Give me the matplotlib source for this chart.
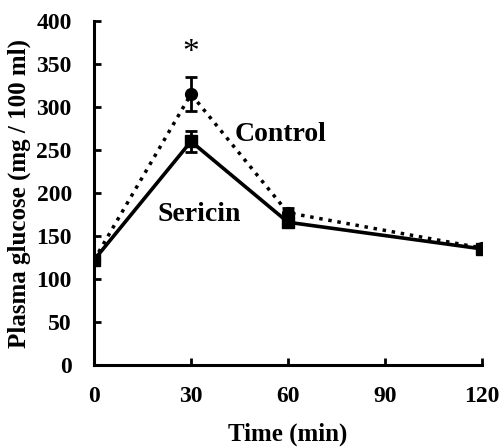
import matplotlib
matplotlib.use("Agg")
import matplotlib.pyplot as plt

plt.rcParams['font.family'] = ['Liberation Serif', 'DejaVu Serif']
plt.rcParams['font.weight'] = 'bold'

# 数据
time = [0, 30, 60, 120]
control = [122, 315, 177, 136]
control_err = [3, 20, 6, 4]
sericin = [122, 260, 166, 135]
sericin_err = [3, 12, 6, 4]

fig = plt.figure(figsize=(5.03, 4.48), dpi=100)
ax = fig.add_axes([94/503, 1-365/448, (482-94)/503, (365-21)/448])

ax.errorbar(time, control, yerr=control_err, color='black', ls=':', lw=2.5,
            marker='o', ms=8.5, capsize=4.5, elinewidth=2, capthick=2)
ax.errorbar(time, sericin, yerr=sericin_err, color='black', ls='-', lw=2.6,
            marker='s', ms=8.5, capsize=4.5, elinewidth=2, capthick=2)

ax.text(30, 363, '*', ha='center', va='center', fontsize=24, fontweight='normal')
ax.text(43.6, 268, 'Control', fontsize=20, va='center', fontweight='bold')
ax.text(19.5, 175, 'Sericin', fontsize=20, va='center', fontweight='bold')

ax.set_xlim(0, 120)
ax.set_ylim(0, 400)
ax.set_xticks([0, 30, 60, 90, 120])
ax.set_yticks(range(0, 401, 50))
ax.spines['top'].set_visible(False)
ax.spines['right'].set_visible(False)
ax.spines['left'].set_linewidth(2.2)
ax.spines['bottom'].set_linewidth(2.2)
ax.tick_params(direction='in', length=5, width=2, labelsize=17)
ax.tick_params(axis='x', pad=15)
ax.tick_params(axis='y', pad=16)
ax.set_xlabel('Time (min)', fontsize=18, fontweight='bold', labelpad=11)
ax.set_ylabel('Plasma glucose (mg / 100 ml)', fontsize=18, fontweight='bold', labelpad=4)
for lab in ax.get_xticklabels() + ax.get_yticklabels():
    lab.set_fontweight('bold')

fig.savefig('out.png', dpi=100)
